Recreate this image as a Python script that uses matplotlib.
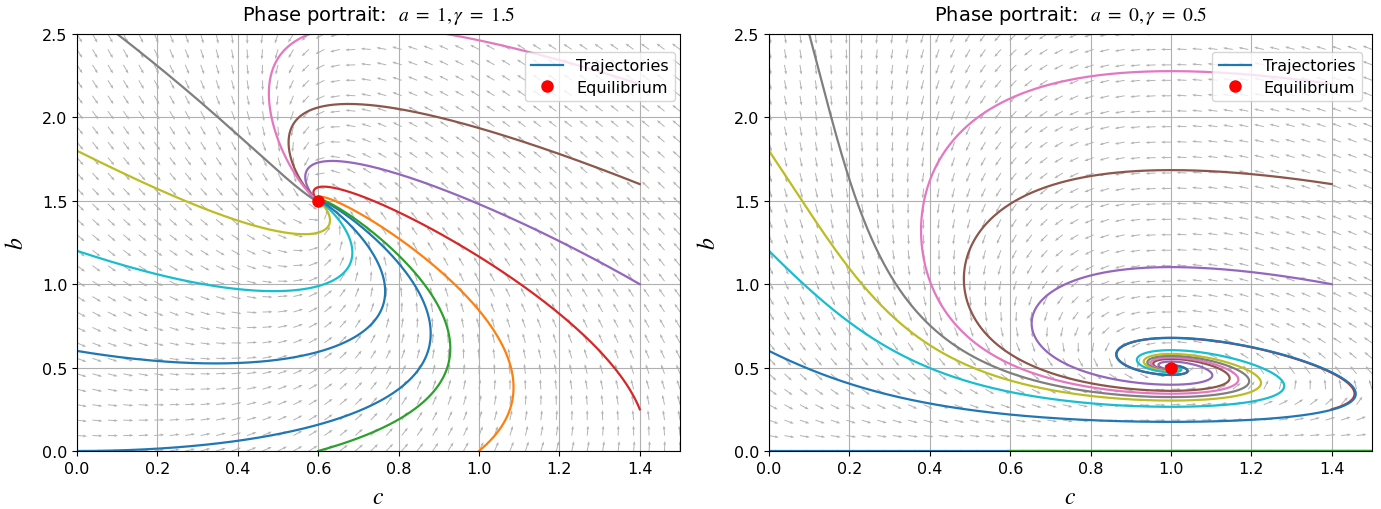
import numpy as np
import matplotlib
matplotlib.use("Agg")
import matplotlib.pyplot as plt

plt.rcParams['mathtext.fontset'] = 'stix'

# model parameters for the two panels
A_VALUES = [1, 0]
GAMMA_VALUES = [1.5, 0.5]
TITLES = [r"Phase portrait:  $a\ =\ 1, \gamma\ =\ 1.5$",
          r"Phase portrait:  $a\ =\ 0, \gamma\ =\ 0.5$"]

# starting points (c0, b0) of the trajectories
C_START = [0.0, 1.0, 0.6, 1.4, 1.4, 1.4, 1.4, 0.1, 0.0, 0.0, 0.0]
B_START = [0.0, 0.0, 0.0, 0.25, 1.0, 1.6, 2.2, 2.5, 1.8, 1.2, 0.6]

X_TICKS = [0.0, 0.2, 0.4, 0.6, 0.8, 1.0, 1.2, 1.4]
Y_TICKS = [0.0, 0.5, 1.0, 1.5, 2.0, 2.5]
C_MAX = 1.5
B_MAX = 2.5

T_END = 40.0
DT = 0.005


def rhs(c, b, a, gamma):
    dc = gamma - b * c - a * c
    db = b * (c - 1.0) + a * c
    return dc, db


def integrate(c0, b0, a, gamma):
    # plain RK4 stepping
    n = int(T_END / DT)
    cs = np.empty(n + 1)
    bs = np.empty(n + 1)
    c, b = c0, b0
    cs[0], bs[0] = c, b
    for i in range(n):
        k1 = rhs(c, b, a, gamma)
        k2 = rhs(c + 0.5 * DT * k1[0], b + 0.5 * DT * k1[1], a, gamma)
        k3 = rhs(c + 0.5 * DT * k2[0], b + 0.5 * DT * k2[1], a, gamma)
        k4 = rhs(c + DT * k3[0], b + DT * k3[1], a, gamma)
        c += DT / 6.0 * (k1[0] + 2 * k2[0] + 2 * k3[0] + k4[0])
        b += DT / 6.0 * (k1[1] + 2 * k2[1] + 2 * k3[1] + k4[1])
        cs[i + 1], bs[i + 1] = c, b
    return cs, bs


def equilibrium(a, gamma):
    b_eq = gamma
    c_eq = gamma / (a + gamma)
    return c_eq, b_eq


fig = plt.figure(figsize=(13.81, 5.10), dpi=100)
W, H = 1381.0, 510.0
axes = [fig.add_axes([77 / W, 58 / H, 603 / W, 417 / H]),
        fig.add_axes([769 / W, 58 / H, 603 / W, 417 / H])]
legend_anchor = [(0.992, 0.957), (0.984, 0.957)]

gx, gy = np.meshgrid(np.linspace(0, C_MAX, 40), np.linspace(0, B_MAX, 28))

for ax, a, gamma, title, anchor in zip(axes, A_VALUES, GAMMA_VALUES, TITLES, legend_anchor):
    # direction field, every arrow the same length
    u, v = rhs(gx, gy, a, gamma)
    norm = np.hypot(u, v)
    norm[norm == 0] = 1.0
    ax.quiver(gx, gy, u / norm, v / norm, color='gray', alpha=0.6,
              scale=10, scale_units='inches', width=0.0016,
              headwidth=3, headlength=4, headaxislength=3.5)

    for i, (c0, b0) in enumerate(zip(C_START, B_START)):
        cs, bs = integrate(c0, b0, a, gamma)
        ax.plot(cs, bs, lw=1.6, color=f"C{i % 10}",
                label="Trajectories" if i == 0 else None)

    c_eq, b_eq = equilibrium(a, gamma)
    ax.plot(c_eq, b_eq, 'o', color='red', ms=8, zorder=5, label="Equilibrium")

    ax.set_xlim(0, C_MAX)
    ax.set_ylim(0, B_MAX)
    ax.set_xticks(X_TICKS)
    ax.set_yticks(Y_TICKS)
    ax.tick_params(labelsize=11.5)
    ax.grid(True)
    ax.set_title(title, fontsize=14, pad=10)
    ax.set_xlabel(r"$c$", fontsize=17, labelpad=6)
    ax.set_ylabel(r"$b$", fontsize=17, labelpad=10)
    ax.legend(loc='upper right', bbox_to_anchor=anchor, borderaxespad=0,
              fontsize=11.5, labelspacing=0.4)

fig.savefig("out.png", dpi=100)
